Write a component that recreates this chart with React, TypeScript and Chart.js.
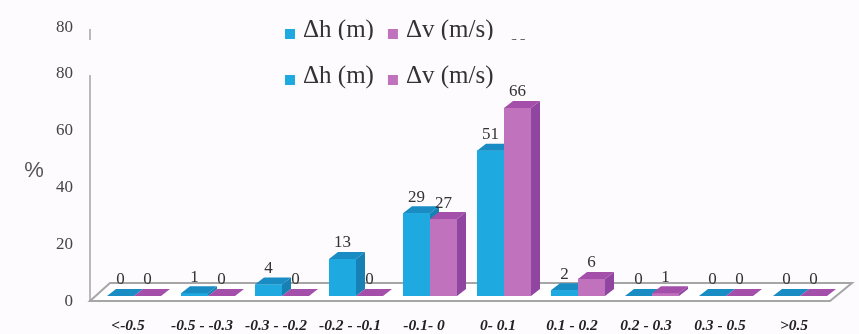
import React, { useEffect, useRef } from "react";
import { Chart, registerables } from "chart.js";

Chart.register(...registerables);

const categories = [
  "<-0.5",
  "-0.5 - -0.3",
  "-0.3 - -0.2",
  "-0.2 - -0.1",
  "-0.1- 0",
  "0- 0.1",
  "0.1 - 0.2",
  "0.2 - 0.3",
  "0.3 - 0.5",
  ">0.5",
];
const dhValues = [0, 1, 4, 13, 29, 51, 2, 0, 0, 0];
const dvValues = [0, 0, 0, 0, 27, 66, 6, 1, 0, 0];
const seriesNames = ["\u0394h (m)", "\u0394v (m/s)"];
const yTicks = [0, 20, 40, 60, 80];

const FRONT = ["#1ea9e1", "#c072bc"];
const TOP = ["#1a8cc4", "#a450aa"];
const SIDE = ["#1780b4", "#9046a0"];
const DX = 9;
const DY = 7;
const SERIF = '"Liberation Serif", "Times New Roman", serif';

function drawLegend(chart: any) {
  const ctx = chart.ctx as CanvasRenderingContext2D;
  let x = 285;
  ctx.save();
  ctx.font = `25px ${SERIF}`;
  ctx.textBaseline = "alphabetic";
  ctx.textAlign = "left";
  chart.data.datasets.forEach((ds: any, i: number) => {
    ctx.fillStyle = FRONT[i];
    ctx.fillRect(x, 75, 10, 10);
    ctx.fillStyle = "#333";
    ctx.fillText(ds.label, x + 18, 83);
    x += 18 + ctx.measureText(ds.label).width + 14;
  });
  ctx.restore();
}

function drawValueLabels(chart: any) {
  const ctx = chart.ctx as CanvasRenderingContext2D;
  ctx.save();
  ctx.font = `17px ${SERIF}`;
  ctx.fillStyle = "#333";
  ctx.textAlign = "center";
  ctx.textBaseline = "middle";
  chart.data.datasets.forEach((ds: any, d: number) => {
    const meta = chart.getDatasetMeta(d);
    meta.data.forEach((el: any, i: number) => {
      const p = el.getProps(["x", "y"], true);
      ctx.fillText(String(ds.data[i]), p.x, p.y - 16);
    });
  });
  ctx.restore();
}

function drawAxisLine(chart: any) {
  const ctx = chart.ctx as CanvasRenderingContext2D;
  const { left, top, bottom } = chart.chartArea;
  ctx.save();
  ctx.strokeStyle = "#a3a3a3";
  ctx.lineWidth = 1.5;
  ctx.beginPath();
  ctx.moveTo(left - 7, bottom + 5);
  ctx.lineTo(left - 7, top + 7);
  ctx.stroke();
  ctx.restore();
}

const bar3d = {
  id: "bar3d",
  beforeDraw(chart: any) {
    const ctx = chart.ctx as CanvasRenderingContext2D;
    ctx.save();
    ctx.fillStyle = "#fdfbfd";
    ctx.fillRect(0, 0, chart.width, chart.height);
    ctx.restore();
  },
  beforeDatasetsDraw(chart: any) {
    const ctx = chart.ctx as CanvasRenderingContext2D;
    const { left, right, bottom } = chart.chartArea;
    ctx.save();
    ctx.fillStyle = "#ffffff";
    ctx.strokeStyle = "#a6a6a6";
    ctx.lineWidth = 2;
    ctx.beginPath();
    ctx.moveTo(left - 7, bottom + 5);
    ctx.lineTo(right - 7, bottom + 5);
    ctx.lineTo(right + 15, bottom - 13);
    ctx.lineTo(left + 13, bottom - 13);
    ctx.closePath();
    ctx.fill();
    ctx.stroke();
    ctx.restore();
    drawAxisLine(chart);
  },
  afterDatasetsDraw(chart: any) {
    const ctx = chart.ctx as CanvasRenderingContext2D;
    const n = chart.data.labels.length;
    const metas = [chart.getDatasetMeta(0), chart.getDatasetMeta(1)];
    ctx.save();
    for (let i = 0; i < n; i++) {
      for (let d = 0; d < 2; d++) {
        const el = metas[d].data[i];
        const { x, y, base, width } = el.getProps(["x", "y", "base", "width"], true);
        const x0 = x - width / 2;
        const x1 = x + width / 2;
        ctx.fillStyle = FRONT[d];
        ctx.fillRect(x0, y, width, base - y);
        ctx.fillStyle = SIDE[d];
        ctx.beginPath();
        ctx.moveTo(x1, y);
        ctx.lineTo(x1 + DX, y - DY);
        ctx.lineTo(x1 + DX, base - DY);
        ctx.lineTo(x1, base);
        ctx.closePath();
        ctx.fill();
        ctx.fillStyle = TOP[d];
        ctx.beginPath();
        ctx.moveTo(x0, y);
        ctx.lineTo(x0 + DX, y - DY);
        ctx.lineTo(x1 + DX, y - DY);
        ctx.lineTo(x1, y);
        ctx.closePath();
        ctx.fill();
      }
    }
    ctx.restore();
    drawValueLabels(chart);
  },
  afterDraw(chart: any) {
    const ctx = chart.ctx as CanvasRenderingContext2D;
    drawLegend(chart);
    // "%" axis label
    ctx.save();
    ctx.font = '22px "Liberation Sans", Arial, sans-serif';
    ctx.fillStyle = "#555";
    ctx.textAlign = "center";
    ctx.textBaseline = "middle";
    ctx.fillText("%", 34, 171);
    ctx.restore();
    // ghost band at the top (duplicated upper strip of the picture)
    ctx.save();
    ctx.beginPath();
    ctx.rect(0, 0, chart.width, 40);
    ctx.clip();
    ctx.translate(0, -46);
    drawLegend(chart);
    drawAxisLine(chart);
    drawValueLabels(chart);
    const ys = chart.scales.y;
    ctx.font = `17px ${SERIF}`;
    ctx.fillStyle = "#444";
    ctx.textAlign = "right";
    ctx.textBaseline = "middle";
    ctx.fillText(String(yTicks[yTicks.length - 1]), 73, ys.getPixelForValue(yTicks[yTicks.length - 1]) + 6);
    ctx.restore();
  },
};

export default function App() {
  const ref = useRef<HTMLCanvasElement | null>(null);
  useEffect(() => {
    if (!ref.current) return;
    const chart = new Chart(ref.current, {
      type: "bar",
      data: {
        labels: categories,
        datasets: [
          { label: seriesNames[0], data: dhValues, backgroundColor: FRONT[0], borderWidth: 0 },
          { label: seriesNames[1], data: dvValues, backgroundColor: FRONT[1], borderWidth: 0 },
        ],
      },
      options: {
        responsive: false,
        animation: false,
        layout: { padding: { top: 68, left: 0, right: 22, bottom: 0 } },
        plugins: {
          legend: { display: false },
          tooltip: { enabled: false },
          title: { display: false },
        },
        datasets: { bar: { categoryPercentage: 0.73, barPercentage: 1 } },
        scales: {
          x: {
            grid: { display: false, drawTicks: false },
            border: { display: false },
            ticks: {
              autoSkip: false,
              maxRotation: 0,
              minRotation: 0,
              padding: 21,
              labelOffset: -6,
              color: "#222",
              font: { family: SERIF, size: 15.5, style: "italic", weight: "bold" },
            },
            afterFit: (s: any) => {
              s.height = 38;
            },
          },
          y: {
            min: 0,
            max: 80,
            grid: { display: false, drawTicks: false },
            border: { display: false },
            ticks: {
              stepSize: 20,
              padding: 24,
              labelOffset: 6,
              color: "#444",
              font: { family: SERIF, size: 17 },
            },
            afterFit: (s: any) => {
              s.width = 97;
            },
          },
        },
      },
      plugins: [bar3d],
    });
    return () => chart.destroy();
  }, []);
  return (
    <div style={{ position: "absolute", left: 0, top: 0, width: 859, height: 334 }}>
      <canvas ref={ref} width={859} height={334} style={{ display: "block" }} />
    </div>
  );
}
